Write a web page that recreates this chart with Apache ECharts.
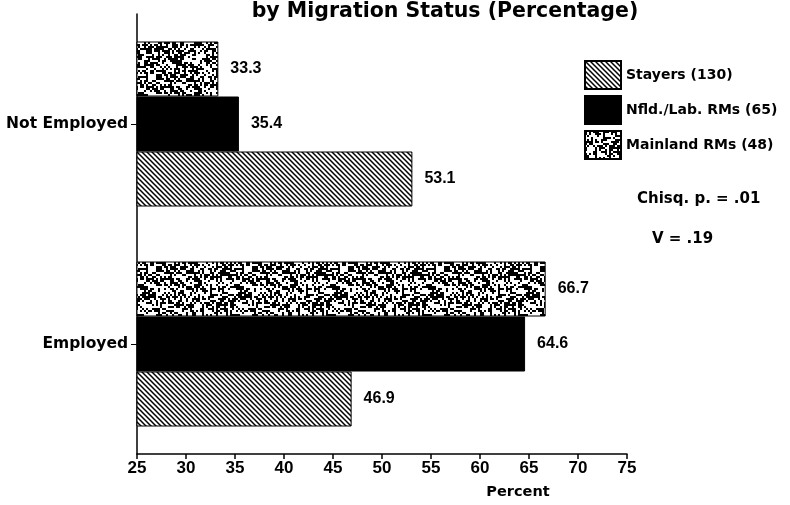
<!DOCTYPE html>
<html lang="en">
<head>
    <meta charset="UTF-8">
    <title>by Migration Status (Percentage)</title>
    <script src="https://cdn.jsdelivr.net/npm/echarts@6/dist/echarts.min.js"></script>
    <style>
        html, body { margin: 0; padding: 0; background: #fff; }
    </style>
</head>
<body>
<div id="main" style="width: 790px;height:505px;"></div>
<script type="text/javascript">
    // data
    var categories = ['Employed', 'Not Employed'];
    var seriesNames = ['Stayers (130)', 'Nfld./Lab. RMs (65)', 'Mainland RMs (48)'];
    var stayers = [46.9, 53.1];
    var nfldLab = [64.6, 35.4];
    var mainland = [66.7, 33.3];
    var xTicks = [25, 30, 35, 40, 45, 50, 55, 60, 65, 70, 75];

    var WORD_FONT = '"DejaVu Sans", sans-serif';
    var NUM_FONT = '"Liberation Sans", Arial, sans-serif';

    // diagonal hatch for stayers
    function hatchPattern() {
        var n = 5;
        var c = document.createElement('canvas');
        c.width = n; c.height = n;
        var g = c.getContext('2d');
        g.fillStyle = '#fff';
        g.fillRect(0, 0, n, n);
        g.strokeStyle = '#000';
        g.lineWidth = 1.5;
        g.beginPath();
        g.moveTo(-1, -1); g.lineTo(n + 1, n + 1);
        g.moveTo(-n - 1, -1); g.lineTo(1, n + 1);
        g.moveTo(n - 1, -1); g.lineTo(2 * n + 1, n + 1);
        g.stroke();
        return c;
    }

    // speckled texture for mainland (fixed hash, only for looks)
    function speckPattern() {
        var w = 96, h = 96, cell = 2;
        var c = document.createElement('canvas');
        c.width = w; c.height = h;
        var g = c.getContext('2d');
        g.fillStyle = '#fff';
        g.fillRect(0, 0, w, h);
        g.fillStyle = '#000';
        var s = 987654;
        for (var y = 0; y < h; y += cell) {
            for (var x = 0; x < w; x += cell) {
                s = (s * 1103515245 + 12345) & 0x7fffffff;
                if (((s >> 8) % 100) < 48) g.fillRect(x, y, cell, cell);
            }
        }
        return c;
    }

    var myChart = echarts.init(document.getElementById('main'));

    var labelStyle = {
        show: true,
        position: 'right',
        distance: 12,
        color: '#000',
        fontFamily: NUM_FONT,
        fontWeight: 'bold',
        fontSize: 16,
        formatter: function (p) { return p.value.toFixed(1); }
    };

    var option = {
        backgroundColor: '#fff',
        animation: false,
        title: {
            text: 'by Migration Status (Percentage)',
            left: 440,
            top: -4,
            textAlign: 'center',
            textStyle: { fontFamily: WORD_FONT, fontWeight: 'bold', fontSize: 20.5, color: '#000' }
        },
        legend: {
            orient: 'vertical',
            left: 579,
            top: 55,
            icon: 'rect',
            itemWidth: 36,
            itemHeight: 28,
            itemGap: 5,
            data: seriesNames,
            textStyle: { fontFamily: WORD_FONT, fontWeight: 'bold', fontSize: 14, color: '#000' }
        },
        graphic: [
            {
                type: 'text', left: 637, top: 192,
                style: { text: 'Chisq. p. = .01', font: 'bold 15px ' + WORD_FONT, fill: '#000' }
            },
            {
                type: 'text', left: 652, top: 232,
                style: { text: 'V = .19', font: 'bold 15px ' + WORD_FONT, fill: '#000' }
            }
        ],
        grid: {
            left: 137,
            top: 14,
            width: 490,
            height: 444
        },
        xAxis: {
            type: 'value',
            min: xTicks[0],
            max: xTicks[xTicks.length - 1],
            interval: 5,
            name: 'Percent',
            nameLocation: 'middle',
            nameGap: 31,
            nameTextStyle: { fontFamily: WORD_FONT, fontWeight: 'bold', fontSize: 14.5, color: '#000', padding: [0, 0, 0, 272] },
            axisLine: { show: true, lineStyle: { color: '#000', width: 1.5 } },
            axisTick: { show: true, length: 5, lineStyle: { color: '#000', width: 1.5 } },
            axisLabel: { fontFamily: NUM_FONT, fontWeight: 'bold', fontSize: 17, color: '#000', margin: 6 },
            splitLine: { show: false }
        },
        yAxis: {
            type: 'category',
            data: categories,
            axisLine: { show: true, lineStyle: { color: '#000', width: 1.5 } },
            axisTick: { show: true, alignWithLabel: true, length: 6, lineStyle: { color: '#000' } },
            axisLabel: { fontFamily: WORD_FONT, fontWeight: 'bold', fontSize: 15.5, color: '#000', margin: 9 }
        },
        // listed top-to-bottom inside each group; legend keeps its own order
        series: [
            {
                name: seriesNames[2],
                type: 'bar',
                data: mainland,
                barGap: '0%',
                barCategoryGap: '25%',
                itemStyle: { color: { image: speckPattern(), repeat: 'repeat' }, borderColor: '#000', borderWidth: 1 },
                label: labelStyle
            },
            {
                name: seriesNames[1],
                type: 'bar',
                data: nfldLab,
                barGap: '0%',
                barCategoryGap: '25%',
                itemStyle: { color: '#000', borderColor: '#000', borderWidth: 1 },
                label: labelStyle
            },
            {
                name: seriesNames[0],
                type: 'bar',
                data: stayers,
                barGap: '0%',
                barCategoryGap: '25%',
                itemStyle: { color: { image: hatchPattern(), repeat: 'repeat' }, borderColor: '#000', borderWidth: 1 },
                label: labelStyle
            }
        ]
    };
    option && myChart.setOption(option);
</script>
</body>
</html>
